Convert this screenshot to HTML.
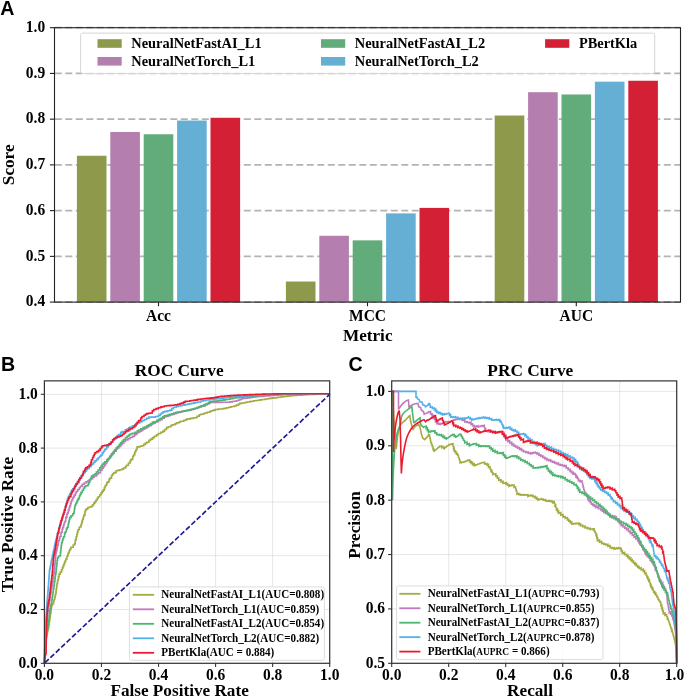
<!DOCTYPE html>
<html><head><meta charset="utf-8"><style>
html,body{margin:0;padding:0;background:#fff;}
svg{display:block;filter:blur(0.3px);}
text{font-family:"Liberation Serif", serif;font-weight:bold;fill:#000;}
</style></head><body>
<svg width="685" height="697" viewBox="0 0 685 697">
<line x1="54.8" y1="302.10" x2="680.5" y2="302.10" stroke="#b3b3b3" stroke-width="1.8" stroke-dasharray="7 3.5"/>
<line x1="54.8" y1="256.37" x2="680.5" y2="256.37" stroke="#b3b3b3" stroke-width="1.8" stroke-dasharray="7 3.5"/>
<line x1="54.8" y1="210.63" x2="680.5" y2="210.63" stroke="#b3b3b3" stroke-width="1.8" stroke-dasharray="7 3.5"/>
<line x1="54.8" y1="164.90" x2="680.5" y2="164.90" stroke="#b3b3b3" stroke-width="1.8" stroke-dasharray="7 3.5"/>
<line x1="54.8" y1="119.17" x2="680.5" y2="119.17" stroke="#b3b3b3" stroke-width="1.8" stroke-dasharray="7 3.5"/>
<line x1="54.8" y1="73.43" x2="680.5" y2="73.43" stroke="#b3b3b3" stroke-width="1.8" stroke-dasharray="7 3.5"/>
<line x1="54.8" y1="27.70" x2="680.5" y2="27.70" stroke="#b3b3b3" stroke-width="1.8" stroke-dasharray="7 3.5"/>
<rect x="76.90" y="155.75" width="29.60" height="146.35" fill="#8f994b"/>
<rect x="110.30" y="131.97" width="29.60" height="170.13" fill="#b47fae"/>
<rect x="143.70" y="134.26" width="29.60" height="167.84" fill="#62ac7b"/>
<rect x="177.10" y="120.54" width="29.60" height="181.56" fill="#66afd4"/>
<rect x="210.50" y="117.79" width="29.60" height="184.31" fill="#d42034"/>
<rect x="285.90" y="281.52" width="29.60" height="20.58" fill="#8f994b"/>
<rect x="319.30" y="235.79" width="29.60" height="66.31" fill="#b47fae"/>
<rect x="352.70" y="240.36" width="29.60" height="61.74" fill="#62ac7b"/>
<rect x="386.10" y="213.38" width="29.60" height="88.72" fill="#66afd4"/>
<rect x="419.50" y="207.89" width="29.60" height="94.21" fill="#d42034"/>
<rect x="494.70" y="115.51" width="29.60" height="186.59" fill="#8f994b"/>
<rect x="528.10" y="92.18" width="29.60" height="209.92" fill="#b47fae"/>
<rect x="561.50" y="94.47" width="29.60" height="207.63" fill="#62ac7b"/>
<rect x="594.90" y="81.67" width="29.60" height="220.43" fill="#66afd4"/>
<rect x="628.30" y="80.75" width="29.60" height="221.35" fill="#d42034"/>
<rect x="80.6" y="33.1" width="574.1" height="40.4" rx="2" fill="#ffffff" fill-opacity="0.8" stroke="#d6d6d6" stroke-width="1"/>
<rect x="97.5" y="39.2" width="24.2" height="8.6" fill="#8f994b"/>
<text transform="translate(131.30,47.90) scale(1,1.06)" font-size="14.4">NeuralNetFastAI_L1</text>
<rect x="97.5" y="57.0" width="24.2" height="8.6" fill="#b47fae"/>
<text transform="translate(131.30,65.70) scale(1,1.06)" font-size="14.4">NeuralNetTorch_L1</text>
<rect x="321.0" y="39.2" width="24.2" height="8.6" fill="#62ac7b"/>
<text transform="translate(354.80,47.90) scale(1,1.06)" font-size="14.4">NeuralNetFastAI_L2</text>
<rect x="321.0" y="57.0" width="24.2" height="8.6" fill="#66afd4"/>
<text transform="translate(354.80,65.70) scale(1,1.06)" font-size="14.4">NeuralNetTorch_L2</text>
<rect x="545.1" y="39.2" width="24.2" height="8.6" fill="#d42034"/>
<text transform="translate(578.90,47.90) scale(1,1.06)" font-size="14.4">PBertKla</text>
<rect x="54.5" y="27.7" width="626.0" height="274.40000000000003" fill="none" stroke="#222" stroke-width="1.1"/>
<line x1="49.9" y1="302.10" x2="54.5" y2="302.10" stroke="#222" stroke-width="1.1"/>
<text transform="translate(45.20,306.40) scale(1,1.06)" font-size="15.5" text-anchor="end">0.4</text>
<line x1="49.9" y1="256.37" x2="54.5" y2="256.37" stroke="#222" stroke-width="1.1"/>
<text transform="translate(45.20,260.67) scale(1,1.06)" font-size="15.5" text-anchor="end">0.5</text>
<line x1="49.9" y1="210.63" x2="54.5" y2="210.63" stroke="#222" stroke-width="1.1"/>
<text transform="translate(45.20,214.93) scale(1,1.06)" font-size="15.5" text-anchor="end">0.6</text>
<line x1="49.9" y1="164.90" x2="54.5" y2="164.90" stroke="#222" stroke-width="1.1"/>
<text transform="translate(45.20,169.20) scale(1,1.06)" font-size="15.5" text-anchor="end">0.7</text>
<line x1="49.9" y1="119.17" x2="54.5" y2="119.17" stroke="#222" stroke-width="1.1"/>
<text transform="translate(45.20,123.47) scale(1,1.06)" font-size="15.5" text-anchor="end">0.8</text>
<line x1="49.9" y1="73.43" x2="54.5" y2="73.43" stroke="#222" stroke-width="1.1"/>
<text transform="translate(45.20,77.73) scale(1,1.06)" font-size="15.5" text-anchor="end">0.9</text>
<line x1="49.9" y1="27.70" x2="54.5" y2="27.70" stroke="#222" stroke-width="1.1"/>
<text transform="translate(45.20,32.00) scale(1,1.06)" font-size="15.5" text-anchor="end">1.0</text>
<line x1="158.5" y1="302.1" x2="158.5" y2="306.3" stroke="#222" stroke-width="1.1"/>
<text transform="translate(158.50,320.70) scale(1,1.06)" font-size="15.5" text-anchor="middle">Acc</text>
<line x1="367.5" y1="302.1" x2="367.5" y2="306.3" stroke="#222" stroke-width="1.1"/>
<text transform="translate(367.50,320.70) scale(1,1.06)" font-size="15.5" text-anchor="middle">MCC</text>
<line x1="576.3" y1="302.1" x2="576.3" y2="306.3" stroke="#222" stroke-width="1.1"/>
<text transform="translate(576.30,320.70) scale(1,1.06)" font-size="15.5" text-anchor="middle">AUC</text>
<text transform="translate(367.70,341.10) scale(1,0.95)" font-size="17.2" text-anchor="middle">Metric</text>
<text transform="translate(13.7,164.8) rotate(-90) scale(1,1.02)" font-size="17.2" text-anchor="middle">Score</text>
<text transform="translate(0.30,14.70) scale(1,1.0)" font-size="19.6" style='font-family:"Liberation Sans", sans-serif'>A</text>
<line x1="44.40" y1="380.84999999999997" x2="44.40" y2="663.3" stroke="#8c8c8c" stroke-opacity="0.21" stroke-width="1"/>
<line x1="101.46" y1="380.84999999999997" x2="101.46" y2="663.3" stroke="#8c8c8c" stroke-opacity="0.21" stroke-width="1"/>
<line x1="158.52" y1="380.84999999999997" x2="158.52" y2="663.3" stroke="#8c8c8c" stroke-opacity="0.21" stroke-width="1"/>
<line x1="215.58" y1="380.84999999999997" x2="215.58" y2="663.3" stroke="#8c8c8c" stroke-opacity="0.21" stroke-width="1"/>
<line x1="272.64" y1="380.84999999999997" x2="272.64" y2="663.3" stroke="#8c8c8c" stroke-opacity="0.21" stroke-width="1"/>
<line x1="329.70" y1="380.84999999999997" x2="329.70" y2="663.3" stroke="#8c8c8c" stroke-opacity="0.21" stroke-width="1"/>
<line x1="44.4" y1="663.30" x2="329.7" y2="663.30" stroke="#8c8c8c" stroke-opacity="0.21" stroke-width="1"/>
<line x1="44.4" y1="609.50" x2="329.7" y2="609.50" stroke="#8c8c8c" stroke-opacity="0.21" stroke-width="1"/>
<line x1="44.4" y1="555.70" x2="329.7" y2="555.70" stroke="#8c8c8c" stroke-opacity="0.21" stroke-width="1"/>
<line x1="44.4" y1="501.90" x2="329.7" y2="501.90" stroke="#8c8c8c" stroke-opacity="0.21" stroke-width="1"/>
<line x1="44.4" y1="448.10" x2="329.7" y2="448.10" stroke="#8c8c8c" stroke-opacity="0.21" stroke-width="1"/>
<line x1="44.4" y1="394.30" x2="329.7" y2="394.30" stroke="#8c8c8c" stroke-opacity="0.21" stroke-width="1"/>
<polyline points="44.40,663.30 44.50,663.30 44.50,661.15 44.61,661.15 44.61,658.67 44.72,658.67 44.72,656.27 44.78,656.27 44.78,654.97 44.87,654.97 44.87,652.84 45.00,652.84 45.00,650.00 45.19,650.00 45.19,648.07 45.43,648.07 45.43,645.73 45.57,645.73 45.57,644.33 45.85,644.33 45.85,641.47 46.00,641.47 46.00,640.00 46.18,640.00 46.18,638.35 46.50,638.35 46.50,635.40 47.01,635.40 47.01,633.30 47.50,633.30 47.50,631.30 47.89,631.30 47.89,629.42 48.41,629.42 48.41,626.87 48.90,626.87 48.90,624.50 49.22,624.50 49.22,622.13 49.50,622.13 49.50,620.13 49.82,620.13 49.82,617.76 50.20,617.76 50.20,615.00 50.45,615.00 50.45,613.29 50.97,613.29 50.97,609.71 51.26,609.71 51.26,607.72 51.60,607.72 51.60,605.40 52.41,605.40 52.41,603.74 53.60,603.74 53.60,601.30 54.07,601.30 54.07,599.48 54.72,599.48 54.72,596.98 55.24,596.98 55.24,594.97 55.70,594.97 55.70,593.20 56.06,593.20 56.06,590.55 56.31,590.55 56.31,588.68 56.69,588.68 56.69,585.87 57.00,585.87 57.00,583.60 57.55,583.60 57.55,581.10 57.90,581.10 57.90,579.51 58.49,579.51 58.49,576.84 59.10,576.84 59.10,574.10 60.24,574.10 60.24,572.16 61.50,572.16 61.50,570.00 62.33,570.00 62.33,567.90 62.94,567.90 62.94,566.34 63.72,566.34 63.72,564.37 64.50,564.37 64.50,562.40 65.06,562.40 65.06,561.00 65.85,561.00 65.85,559.03 66.95,559.03 66.95,556.31 67.86,556.31 67.86,554.03 68.46,554.03 68.46,552.54 69.20,552.54 69.20,550.70 69.88,550.70 69.88,549.30 70.90,549.30 70.90,547.20 73.22,547.20 73.22,544.94 74.50,544.94 74.50,543.70 75.19,543.70 75.19,540.86 75.54,540.86 75.54,539.41 76.20,539.41 76.20,536.70 76.83,536.70 76.83,534.26 77.39,534.26 77.39,532.09 78.00,532.09 78.00,529.70 79.23,529.70 79.23,527.70 79.65,527.70 79.65,527.03 80.90,527.03 80.90,525.00 81.60,525.00 81.60,522.62 82.12,522.62 82.12,520.85 82.60,520.85 82.60,519.20 83.29,519.20 83.29,516.98 83.86,516.98 83.86,515.17 84.94,515.17 84.94,511.71 85.50,511.71 85.50,509.90 86.48,509.90 86.48,508.92 87.90,508.92 87.90,507.50 89.63,507.50 89.63,506.95 91.40,506.95 91.40,506.40 92.59,506.40 92.59,504.80 93.82,504.80 93.82,503.15 94.90,503.15 94.90,501.70 96.02,501.70 96.02,499.99 97.20,499.99 97.20,498.20 98.25,498.20 98.25,496.73 99.70,496.73 99.70,494.70 101.12,494.70 101.12,492.83 102.24,492.83 102.24,491.36 103.20,491.36 103.20,490.10 104.25,490.10 104.25,487.99 105.04,487.99 105.04,486.42 105.61,486.42 105.61,485.29 106.70,485.29 106.70,483.10 107.52,483.10 107.52,481.86 109.00,481.86 109.00,479.60 109.92,479.60 109.92,478.09 111.49,478.09 111.49,475.52 112.60,475.52 112.60,473.70 113.90,473.70 113.90,472.62 116.10,472.62 116.10,470.80 117.65,470.80 117.65,470.35 119.70,470.35 119.70,469.74 121.90,469.74 121.90,469.10 123.60,469.10 123.60,467.93 125.40,467.93 125.40,466.70 126.52,466.70 126.52,465.32 128.43,465.32 128.43,462.96 130.10,462.96 130.10,460.90 130.99,460.90 130.99,459.39 132.71,459.39 132.71,456.49 133.60,456.49 133.60,455.00 134.64,455.00 134.64,452.59 135.10,452.59 135.10,451.53 135.97,451.53 135.97,449.51 137.10,449.51 137.10,446.90 139.87,446.90 139.87,446.22 142.00,446.22 142.00,445.70 143.73,445.70 143.73,444.41 145.18,444.41 145.18,443.34 146.70,443.34 146.70,442.20 148.98,442.20 148.98,440.39 150.59,440.39 150.59,439.12 152.50,439.12 152.50,437.60 154.34,437.60 154.34,436.32 156.52,436.32 156.52,434.80 158.40,434.80 158.40,433.50 160.88,433.50 160.88,432.21 163.00,432.21 163.00,431.10 164.54,431.10 164.54,429.56 166.50,429.56 166.50,427.60 168.24,427.60 168.24,426.75 170.86,426.75 170.86,425.46 172.40,425.46 172.40,424.70 175.07,424.70 175.07,423.59 176.95,423.59 176.95,422.82 179.40,422.82 179.40,421.80 180.88,421.80 180.88,421.28 183.89,421.28 183.89,420.21 186.12,420.21 186.12,419.42 187.60,419.42 187.60,418.90 190.45,418.90 190.45,418.41 192.93,418.41 192.93,417.99 194.60,417.99 194.60,417.70 196.91,417.70 196.91,416.24 199.20,416.24 199.20,414.80 200.82,414.80 200.82,414.31 203.34,414.31 203.34,413.54 205.10,413.54 205.10,413.00 207.10,413.00 207.10,412.31 210.00,412.31 210.00,411.30 211.55,411.30 211.55,410.77 213.53,410.77 213.53,410.10 215.30,410.10 215.30,409.50 218.19,409.50 218.19,409.17 219.29,409.17 219.29,409.04 222.30,409.04 222.30,408.70 223.98,408.70 223.98,408.33 226.58,408.33 226.58,407.75 228.81,407.75 228.81,407.26 230.96,407.26 230.96,406.78 232.28,406.78 232.28,406.49 234.50,406.49 234.50,406.00 236.25,406.00 236.25,405.14 238.55,405.14 238.55,404.01 239.80,404.01 239.80,403.40 241.73,403.40 241.73,403.04 244.83,403.04 244.83,402.47 246.94,402.47 246.94,402.07 249.61,402.07 249.61,401.58 251.28,401.58 251.28,401.27 253.80,401.27 253.80,400.80 256.05,400.80 256.05,400.45 257.66,400.45 257.66,400.21 259.76,400.21 259.76,399.88 261.99,399.88 261.99,399.54 265.22,399.54 265.22,399.04 267.30,399.04 267.30,398.72 269.54,398.72 269.54,398.37 271.30,398.37 271.30,398.10 273.18,398.10 273.18,397.86 276.19,397.86 276.19,397.49 277.95,397.49 277.95,397.26 280.61,397.26 280.61,396.93 282.18,396.93 282.18,396.73 284.13,396.73 284.13,396.49 286.99,396.49 286.99,396.13 288.80,396.13 288.80,395.90 290.66,395.90 290.66,395.76 293.84,395.76 293.84,395.53 295.30,395.53 295.30,395.42 297.09,395.42 297.09,395.29 299.36,395.29 299.36,395.12 301.66,395.12 301.66,394.95 304.52,394.95 304.52,394.74 306.40,394.74 306.40,394.60 308.31,394.60 308.31,394.54 310.85,394.54 310.85,394.46 312.59,394.46 312.59,394.40 315.58,394.40 315.58,394.31 316.99,394.31 316.99,394.26 319.20,394.26 319.20,394.19 322.10,394.19 322.10,394.10 324.78,394.10 324.78,393.99 327.09,393.99 327.09,393.90 329.70,393.90 329.70,393.80" fill="none" stroke="#a3ab41" stroke-width="1.6" stroke-linejoin="miter" stroke-miterlimit="2"/>
<polyline points="44.40,663.30 44.47,663.30 44.47,661.28 44.55,661.28 44.55,658.58 44.63,658.58 44.63,656.29 44.70,656.29 44.70,654.04 44.76,654.04 44.76,652.33 44.85,652.33 44.85,649.67 44.92,649.67 44.92,647.43 45.00,647.43 45.00,645.00 45.10,645.00 45.10,643.45 45.25,643.45 45.25,641.32 45.43,641.32 45.43,638.62 45.56,638.62 45.56,636.66 45.70,636.66 45.70,634.44 45.89,634.44 45.89,631.64 46.00,631.64 46.00,630.00 46.22,630.00 46.22,627.84 46.49,627.84 46.49,625.07 46.67,625.07 46.67,623.35 46.82,623.35 46.82,621.84 47.12,621.84 47.12,618.78 47.32,618.78 47.32,616.76 47.50,616.76 47.50,615.00 47.86,615.00 47.86,612.26 48.01,612.26 48.01,611.15 48.40,611.15 48.40,608.24 48.68,608.24 48.68,606.15 48.92,606.15 48.92,604.34 49.22,604.34 49.22,602.10 49.50,602.10 49.50,600.00 49.91,600.00 49.91,597.54 50.25,597.54 50.25,595.52 50.49,595.52 50.49,594.05 50.85,594.05 50.85,591.92 51.25,591.92 51.25,589.50 51.50,589.50 51.50,588.00 51.80,588.00 51.80,586.06 52.29,586.06 52.29,582.94 52.51,582.94 52.51,581.51 53.00,581.51 53.00,578.38 53.29,578.38 53.29,576.47 53.60,576.47 53.60,574.49 53.95,574.49 53.95,572.23 54.30,572.23 54.30,570.00 54.44,570.00 54.44,568.43 54.71,568.43 54.71,565.37 54.89,565.37 54.89,563.38 55.10,563.38 55.10,561.03 55.20,561.03 55.20,559.83 55.45,559.83 55.45,557.01 55.56,557.01 55.56,555.77 55.80,555.77 55.80,553.10 56.29,553.10 56.29,550.92 56.87,550.92 56.87,548.34 57.18,548.34 57.18,546.98 57.65,546.98 57.65,544.87 58.33,544.87 58.33,541.86 58.70,541.86 58.70,540.20 59.45,540.20 59.45,537.85 59.90,537.85 59.90,536.47 60.94,536.47 60.94,533.22 61.24,533.22 61.24,532.27 62.21,532.27 62.21,529.24 62.80,529.24 62.80,527.40 63.56,527.40 63.56,525.00 64.12,525.00 64.12,523.25 64.66,523.25 64.66,521.54 65.73,521.54 65.73,518.17 66.07,518.17 66.07,517.10 66.90,517.10 66.90,514.50 67.39,514.50 67.39,513.01 68.25,513.01 68.25,510.42 69.07,510.42 69.07,507.96 69.74,507.96 69.74,505.92 70.49,505.92 70.49,503.64 71.12,503.64 71.12,501.75 71.70,501.75 71.70,500.00 72.73,500.00 72.73,498.07 73.48,498.07 73.48,496.67 74.30,496.67 74.30,495.14 75.43,495.14 75.43,493.02 76.40,493.02 76.40,491.20 77.76,491.20 77.76,489.56 79.31,489.56 79.31,487.68 80.44,487.68 80.44,486.32 82.20,486.32 82.20,484.20 84.26,484.20 84.26,482.96 85.97,482.96 85.97,481.92 88.00,481.92 88.00,480.70 89.23,480.70 89.23,479.78 90.72,479.78 90.72,478.68 92.70,478.68 92.70,477.20 94.16,477.20 94.16,476.04 96.72,476.04 96.72,474.01 98.50,474.01 98.50,472.60 100.47,472.60 100.47,470.12 102.10,470.12 102.10,468.08 103.20,468.08 103.20,466.70 104.44,466.70 104.44,464.85 105.64,464.85 105.64,463.07 106.94,463.07 106.94,461.13 107.90,461.13 107.90,459.70 109.01,459.70 109.01,457.86 110.25,457.86 110.25,455.80 111.40,455.80 111.40,453.90 112.88,453.90 112.88,452.42 114.17,452.42 114.17,451.13 116.10,451.13 116.10,449.20 117.27,449.20 117.27,448.01 118.87,448.01 118.87,446.37 120.70,446.37 120.70,444.50 122.29,444.50 122.29,442.95 123.80,442.95 123.80,441.47 125.40,441.47 125.40,439.90 127.95,439.90 127.95,438.60 130.10,438.60 130.10,437.50 132.40,437.50 132.40,436.40 134.40,436.40 134.40,434.87 135.75,434.87 135.75,433.84 137.10,433.84 137.10,432.80 138.56,432.80 138.56,431.94 140.00,431.94 140.00,431.10 141.70,431.10 141.70,430.06 143.03,430.06 143.03,429.25 144.62,429.25 144.62,428.27 146.70,428.27 146.70,427.00 148.66,427.00 148.66,425.82 151.06,425.82 151.06,424.37 152.50,424.37 152.50,423.50 155.04,423.50 155.04,422.21 156.28,422.21 156.28,421.58 158.40,421.58 158.40,420.50 159.87,420.50 159.87,419.61 162.04,419.61 162.04,418.30 164.20,418.30 164.20,417.00 165.57,417.00 165.57,416.53 168.01,416.53 168.01,415.69 170.00,415.69 170.00,415.00 171.62,415.00 171.62,414.45 174.04,414.45 174.04,413.63 175.90,413.63 175.90,413.00 177.69,413.00 177.69,412.54 180.27,412.54 180.27,411.87 181.70,411.87 181.70,411.50 183.30,411.50 183.30,411.23 185.72,411.23 185.72,410.82 187.60,410.82 187.60,410.50 189.83,410.50 189.83,409.92 191.34,409.92 191.34,409.53 193.40,409.53 193.40,409.00 194.85,409.00 194.85,408.50 197.67,408.50 197.67,407.53 199.20,407.53 199.20,407.00 201.39,407.00 201.39,406.26 202.57,406.26 202.57,405.86 205.10,405.86 205.10,405.00 206.95,405.00 206.95,404.05 208.36,404.05 208.36,403.33 210.00,403.33 210.00,402.50 212.59,402.50 212.59,402.46 214.94,402.46 214.94,402.42 217.00,402.42 217.00,402.38 218.48,402.38 218.48,402.35 220.59,402.35 220.59,402.32 223.11,402.32 223.11,402.28 225.00,402.28 225.00,402.24 227.50,402.24 227.50,402.20 229.81,402.20 229.81,401.83 232.32,401.83 232.32,401.43 233.57,401.43 233.57,401.23 236.30,401.23 236.30,400.80 237.67,400.80 237.67,400.25 239.68,400.25 239.68,399.43 241.50,399.43 241.50,398.70 243.09,398.70 243.09,398.47 245.35,398.47 245.35,398.14 247.32,398.14 247.32,397.85 249.91,397.85 249.91,397.47 251.97,397.47 251.97,397.17 253.80,397.17 253.80,396.90 256.01,396.90 256.01,396.72 258.46,396.72 258.46,396.53 260.04,396.53 260.04,396.40 263.07,396.40 263.07,396.16 264.69,396.16 264.69,396.03 267.19,396.03 267.19,395.83 268.99,395.83 268.99,395.69 271.30,395.69 271.30,395.50 273.99,395.50 273.99,395.32 275.26,395.32 275.26,395.23 277.88,395.23 277.88,395.05 280.03,395.05 280.03,394.90 282.11,394.90 282.11,394.76 284.70,394.76 284.70,394.58 287.19,394.58 287.19,394.41 288.80,394.41 288.80,394.30 291.37,394.30 291.37,394.21 293.87,394.21 293.87,394.12 296.35,394.12 296.35,394.03 297.81,394.03 297.81,393.98 300.72,393.98 300.72,393.88 302.90,393.88 302.90,393.80 329.70,393.80" fill="none" stroke="#c17bbd" stroke-width="1.6" stroke-linejoin="miter" stroke-miterlimit="2"/>
<polyline points="44.40,663.30 44.50,663.30 44.50,661.66 44.63,661.66 44.63,659.51 44.83,659.51 44.83,656.20 44.91,656.20 44.91,654.75 45.05,654.75 45.05,652.57 45.20,652.57 45.20,650.00 45.40,650.00 45.40,647.54 45.61,647.54 45.61,644.96 45.76,644.96 45.76,643.15 45.97,643.15 45.97,640.59 46.15,640.59 46.15,638.41 46.27,638.41 46.27,636.97 46.50,636.97 46.50,634.10 46.79,634.10 46.79,632.07 47.07,632.07 47.07,630.15 47.50,630.15 47.50,627.20 47.99,627.20 47.99,624.54 48.50,624.54 48.50,621.80 48.74,621.80 48.74,619.76 49.07,619.76 49.07,617.05 49.27,617.05 49.27,615.33 49.61,615.33 49.61,612.51 49.80,612.51 49.80,610.90 50.17,610.90 50.17,608.91 50.83,608.91 50.83,605.43 51.13,605.43 51.13,603.79 51.60,603.79 51.60,601.30 51.95,601.30 51.95,598.92 52.28,598.92 52.28,596.65 52.68,596.65 52.68,593.95 52.97,593.95 52.97,591.99 53.35,591.99 53.35,589.38 53.60,589.38 53.60,587.70 53.93,587.70 53.93,585.40 54.27,585.40 54.27,582.99 54.48,582.99 54.48,581.45 54.91,581.45 54.91,578.41 55.18,578.41 55.18,576.54 55.43,576.54 55.43,574.71 55.71,574.71 55.71,572.79 56.10,572.79 56.10,570.00 56.28,570.00 56.28,568.38 56.54,568.38 56.54,566.15 56.84,566.15 56.84,563.52 57.09,563.52 57.09,561.34 57.20,561.34 57.20,560.31 57.50,560.31 57.50,557.70 58.55,557.70 58.55,556.03 60.40,556.03 60.40,553.10 60.64,553.10 60.64,550.99 60.95,550.99 60.95,548.27 61.09,548.27 61.09,547.04 61.30,547.04 61.30,545.23 61.60,545.23 61.60,542.60 62.35,542.60 62.35,540.34 62.86,540.34 62.86,538.80 63.51,538.80 63.51,536.82 64.55,536.82 64.55,533.65 65.10,533.65 65.10,532.00 66.30,532.00 66.30,529.11 66.96,529.11 66.96,527.50 68.00,527.50 68.00,525.00 68.48,525.00 68.48,522.99 68.92,522.99 68.92,521.13 69.38,521.13 69.38,519.16 69.80,519.16 69.80,517.40 71.11,517.40 71.11,515.74 72.71,515.74 72.71,513.70 73.90,513.70 73.90,512.20 74.37,512.20 74.37,509.20 74.64,509.20 74.64,507.50 75.00,507.50 75.00,505.20 75.79,505.20 75.79,503.55 76.71,503.55 76.71,501.65 77.50,501.65 77.50,500.00 78.14,500.00 78.14,498.60 79.32,498.60 79.32,496.05 80.11,496.05 80.11,494.34 81.00,494.34 81.00,492.40 82.31,492.40 82.31,490.23 83.50,490.23 83.50,488.26 84.50,488.26 84.50,486.60 85.79,486.60 85.79,485.72 88.00,485.72 88.00,484.20 88.85,484.20 88.85,482.23 89.80,482.23 89.80,480.04 90.53,480.04 90.53,478.34 91.50,478.34 91.50,476.10 93.05,476.10 93.05,475.03 95.00,475.03 95.00,473.70 96.38,473.70 96.38,472.00 98.02,472.00 98.02,469.98 99.70,469.98 99.70,467.90 100.92,467.90 100.92,466.27 102.20,466.27 102.20,464.55 103.20,464.55 103.20,463.20 104.66,463.20 104.66,461.74 106.70,461.74 106.70,459.70 107.97,459.70 107.97,458.43 109.77,458.43 109.77,456.63 111.40,456.63 111.40,455.00 112.46,455.00 112.46,453.42 113.99,453.42 113.99,451.15 114.88,451.15 114.88,449.81 116.10,449.81 116.10,448.00 117.48,448.00 117.48,446.44 119.30,446.44 119.30,444.38 120.70,444.38 120.70,442.80 122.01,442.80 122.01,441.32 123.48,441.32 123.48,439.67 125.40,439.67 125.40,437.50 127.26,437.50 127.26,436.12 128.85,436.12 128.85,434.93 130.10,434.93 130.10,434.00 132.22,434.00 132.22,433.26 135.00,433.26 135.00,432.30 137.29,432.30 137.29,430.92 138.69,430.92 138.69,430.07 140.80,430.07 140.80,428.80 143.11,428.80 143.11,427.66 144.46,427.66 144.46,427.00 146.70,427.00 146.70,425.90 148.54,425.90 148.54,424.79 150.46,424.79 150.46,423.63 152.50,423.63 152.50,422.40 153.88,422.40 153.88,421.72 156.96,421.72 156.96,420.21 158.40,420.21 158.40,419.50 160.26,419.50 160.26,418.35 162.79,418.35 162.79,416.78 164.20,416.78 164.20,415.90 166.42,415.90 166.42,415.25 168.46,415.25 168.46,414.65 170.00,414.65 170.00,414.20 171.72,414.20 171.72,413.68 173.75,413.68 173.75,413.06 175.90,413.06 175.90,412.40 177.94,412.40 177.94,412.01 179.52,412.01 179.52,411.71 181.70,411.71 181.70,411.30 184.14,411.30 184.14,410.80 185.86,410.80 185.86,410.45 187.60,410.45 187.60,410.10 190.00,410.10 190.00,409.60 191.56,409.60 191.56,409.28 193.40,409.28 193.40,408.90 194.95,408.90 194.95,408.28 197.03,408.28 197.03,407.46 199.20,407.46 199.20,406.60 201.06,406.60 201.06,405.87 203.65,405.87 203.65,404.86 205.10,404.86 205.10,404.30 206.49,404.30 206.49,403.53 208.72,403.53 208.72,402.30 210.00,402.30 210.00,401.60 212.78,401.60 212.78,401.26 214.21,401.26 214.21,401.09 217.41,401.09 217.41,400.70 219.92,400.70 219.92,400.39 222.10,400.39 222.10,400.13 224.00,400.13 224.00,399.90 225.77,399.90 225.77,399.57 227.82,399.57 227.82,399.19 230.18,399.19 230.18,398.74 232.11,398.74 232.11,398.38 234.22,398.38 234.22,397.99 236.30,397.99 236.30,397.60 238.95,397.60 238.95,397.34 240.13,397.34 240.13,397.23 242.87,397.23 242.87,396.96 244.81,396.96 244.81,396.77 246.99,396.77 246.99,396.56 249.23,396.56 249.23,396.34 251.81,396.34 251.81,396.09 253.80,396.09 253.80,395.90 255.83,395.90 255.83,395.75 257.62,395.75 257.62,395.62 259.94,395.62 259.94,395.44 262.38,395.44 262.38,395.26 264.87,395.26 264.87,395.08 267.30,395.08 267.30,394.90 268.96,394.90 268.96,394.77 271.30,394.77 271.30,394.60 273.74,394.60 273.74,394.53 275.62,394.53 275.62,394.48 277.53,394.48 277.53,394.42 280.10,394.42 280.10,394.35 282.49,394.35 282.49,394.28 283.86,394.28 283.86,394.24 286.51,394.24 286.51,394.17 288.80,394.17 288.80,394.10 291.21,394.10 291.21,394.04 292.61,394.04 292.61,394.01 294.91,394.01 294.91,393.95 296.54,393.95 296.54,393.91 299.44,393.91 299.44,393.84 301.10,393.84 301.10,393.80 329.70,393.80" fill="none" stroke="#4fb472" stroke-width="1.6" stroke-linejoin="miter" stroke-miterlimit="2"/>
<polyline points="44.40,663.30 44.60,650.00 44.66,650.00 44.66,648.22 44.76,648.22 44.76,645.34 44.86,645.34 44.86,642.20 44.93,642.20 44.93,639.97 45.00,639.97 45.00,638.00 45.06,638.00 45.06,636.28 45.15,636.28 45.15,633.89 45.27,633.89 45.27,630.67 45.35,630.67 45.35,628.56 45.43,628.56 45.43,626.34 45.50,626.34 45.50,624.50 45.65,624.50 45.65,622.24 45.80,622.24 45.80,620.04 45.93,620.04 45.93,618.13 46.05,618.13 46.05,616.42 46.22,616.42 46.22,613.92 46.33,613.92 46.33,612.29 46.55,612.29 46.55,609.09 46.69,609.09 46.69,607.06 46.80,607.06 46.80,605.40 46.97,605.40 46.97,603.30 47.16,603.30 47.16,600.84 47.32,600.84 47.32,598.85 47.46,598.85 47.46,597.00 47.65,597.00 47.65,594.60 47.88,594.60 47.88,591.71 47.98,591.71 47.98,590.52 48.20,590.52 48.20,587.70 48.33,587.70 48.33,585.89 48.52,585.89 48.52,583.39 48.66,583.39 48.66,581.46 48.86,581.46 48.86,578.67 48.99,578.67 48.99,576.93 49.16,576.93 49.16,574.62 49.36,574.62 49.36,571.88 49.50,571.88 49.50,570.00 49.82,570.00 49.82,568.36 50.31,568.36 50.31,565.92 50.89,565.92 50.89,562.99 51.29,562.99 51.29,560.97 51.70,560.97 51.70,558.90 52.26,558.90 52.26,556.31 52.64,556.31 52.64,554.54 53.13,554.54 53.13,552.23 53.32,552.23 53.32,551.34 53.83,551.34 53.83,548.97 54.45,548.97 54.45,546.11 54.83,546.11 54.83,544.30 55.20,544.30 55.20,542.60 55.68,542.60 55.68,540.65 56.09,540.65 56.09,539.01 56.66,539.01 56.66,536.70 57.34,536.70 57.34,533.98 57.65,533.98 57.65,532.73 58.05,532.73 58.05,531.11 58.70,531.11 58.70,528.50 59.31,528.50 59.31,526.66 59.93,526.66 59.93,524.81 61.00,524.81 61.00,521.59 61.47,521.59 61.47,520.20 62.20,520.20 62.20,518.00 62.66,518.00 62.66,516.32 63.21,516.32 63.21,514.32 63.95,514.32 63.95,511.61 64.45,511.61 64.45,509.79 65.29,509.79 65.29,506.70 65.70,506.70 65.70,505.20 66.29,505.20 66.29,503.29 67.13,503.29 67.13,500.56 67.57,500.56 67.57,499.15 68.20,499.15 68.20,497.10 69.03,497.10 69.03,495.43 69.82,495.43 69.82,493.86 71.03,493.86 71.03,491.44 71.70,491.44 71.70,490.10 72.83,490.10 72.83,488.69 74.60,488.69 74.60,486.46 76.40,486.46 76.40,484.20 77.25,484.20 77.25,482.79 79.03,482.79 79.03,479.84 79.95,479.84 79.95,478.32 81.41,478.32 81.41,475.90 82.17,475.90 82.17,474.65 83.40,474.65 83.40,472.60 85.06,472.60 85.06,470.91 86.30,470.91 86.30,469.66 87.40,469.66 87.40,468.54 89.20,468.54 89.20,466.70 91.02,466.70 91.02,464.88 91.96,464.88 91.96,463.94 93.69,463.94 93.69,462.21 95.00,462.21 95.00,460.90 96.50,460.90 96.50,459.40 98.09,459.40 98.09,457.81 99.59,457.81 99.59,456.31 100.90,456.31 100.90,455.00 102.39,455.00 102.39,452.92 103.54,452.92 103.54,451.31 104.50,451.31 104.50,449.98 105.22,449.98 105.22,448.96 106.70,448.96 106.70,446.90 108.32,446.90 108.32,444.97 109.26,444.97 109.26,443.86 110.83,443.86 110.83,442.00 112.60,442.00 112.60,439.90 114.36,439.90 114.36,438.33 116.06,438.33 116.06,436.82 117.20,436.82 117.20,435.80 118.43,435.80 118.43,434.57 120.70,434.57 120.70,432.30 122.36,432.30 122.36,431.45 125.40,431.45 125.40,429.90 127.26,429.90 127.26,428.75 128.80,428.75 128.80,427.80 130.10,427.80 130.10,427.00 132.47,427.00 132.47,425.82 134.70,425.82 134.70,424.70 136.54,424.70 136.54,423.63 137.86,423.63 137.86,422.86 139.70,422.86 139.70,421.80 142.38,421.80 142.38,420.46 144.30,420.46 144.30,419.50 146.69,419.50 146.69,418.28 149.00,418.28 149.00,417.10 153.70,417.10 155.39,417.10 155.39,416.49 158.40,416.49 158.40,415.40 160.27,415.40 160.27,413.98 161.57,413.98 161.57,412.99 163.00,412.99 163.00,411.90 165.16,411.90 165.16,411.35 167.70,411.35 167.70,410.70 170.00,410.70 170.00,410.10 171.77,410.10 171.77,408.63 173.50,408.63 173.50,407.20 176.33,407.20 176.33,406.48 178.20,406.48 178.20,406.00 180.22,406.00 180.22,405.62 181.99,405.62 181.99,405.29 184.10,405.29 184.10,404.90 185.72,404.90 185.72,404.56 187.95,404.56 187.95,404.10 189.90,404.10 189.90,403.70 191.39,403.70 191.39,403.39 193.91,403.39 193.91,402.87 195.70,402.87 195.70,402.50 197.94,402.50 197.94,401.96 200.87,401.96 200.87,401.24 202.70,401.24 202.70,400.80 205.12,400.80 205.12,400.31 206.27,400.31 206.27,400.07 208.60,400.07 208.60,399.60 210.63,399.60 210.63,399.41 213.25,399.41 213.25,399.16 215.00,399.16 215.00,399.00 216.88,399.00 216.88,398.74 219.22,398.74 219.22,398.43 221.76,398.43 221.76,398.08 223.60,398.08 223.60,397.83 224.80,397.83 224.80,397.67 227.50,397.67 227.50,397.30 230.14,397.30 230.14,397.09 231.69,397.09 231.69,396.97 234.41,396.97 234.41,396.75 236.89,396.75 236.89,396.55 238.60,396.55 238.60,396.41 240.86,396.41 240.86,396.23 242.96,396.23 242.96,396.06 245.00,396.06 245.00,395.90 247.35,395.90 247.35,395.73 249.32,395.73 249.32,395.58 251.13,395.58 251.13,395.45 254.16,395.45 254.16,395.22 255.82,395.22 255.82,395.10 258.41,395.10 258.41,394.91 259.92,394.91 259.92,394.80 262.60,394.80 262.60,394.60 264.58,394.60 264.58,394.54 267.11,394.54 267.11,394.47 268.59,394.47 268.59,394.43 271.17,394.43 271.17,394.35 274.04,394.35 274.04,394.27 275.23,394.27 275.23,394.24 278.03,394.24 278.03,394.16 280.00,394.16 280.00,394.10 282.61,394.10 282.61,394.06 285.00,394.06 285.00,394.01 286.15,394.01 286.15,394.00 288.91,394.00 288.91,393.95 290.99,393.95 290.99,393.91 293.30,393.91 293.30,393.87 295.98,393.87 295.98,393.83 297.60,393.83 297.60,393.80 329.70,393.80" fill="none" stroke="#52b1e8" stroke-width="1.6" stroke-linejoin="miter" stroke-miterlimit="2"/>
<polyline points="44.40,663.30 44.56,663.30 44.56,660.91 44.70,660.91 44.70,658.69 44.80,658.69 44.80,657.20 45.24,657.20 45.24,655.07 45.50,655.07 45.50,653.80 46.10,653.80 46.10,651.80 46.40,631.30 46.45,631.30 46.45,629.56 46.53,629.56 46.53,626.81 46.59,626.81 46.59,624.84 46.67,624.84 46.67,622.17 46.74,622.17 46.74,619.87 46.80,619.87 46.80,617.70 46.96,617.70 46.96,615.17 47.05,615.17 47.05,613.79 47.24,613.79 47.24,610.77 47.33,610.77 47.33,609.45 47.50,609.45 47.50,606.80 48.05,606.80 48.05,603.90 48.32,603.90 48.32,602.46 48.77,602.46 48.77,600.08 49.30,600.08 49.30,597.30 49.60,597.30 49.60,594.77 49.79,594.77 49.79,593.14 50.17,593.14 50.17,589.85 50.40,589.85 50.40,587.91 50.71,587.91 50.71,585.24 50.90,585.24 50.90,583.60 51.10,583.60 51.10,581.92 51.40,581.92 51.40,579.34 51.72,579.34 51.72,576.66 51.89,576.66 51.89,575.21 52.26,575.21 52.26,572.02 52.50,572.02 52.50,570.00 52.65,570.00 52.65,567.97 52.82,567.97 52.82,565.65 52.91,565.65 52.91,564.39 53.14,564.39 53.14,561.22 53.21,561.22 53.21,560.34 53.40,560.34 53.40,557.70 53.82,557.70 53.82,555.47 54.08,555.47 54.08,554.06 54.49,554.06 54.49,551.88 54.92,551.88 54.92,549.58 55.51,549.58 55.51,546.45 55.80,546.45 55.80,544.90 56.11,544.90 56.11,543.00 56.45,543.00 56.45,540.88 56.83,540.88 56.83,538.57 57.22,538.57 57.22,536.15 57.50,536.15 57.50,534.40 57.92,534.40 57.92,532.71 58.82,532.71 58.82,529.09 59.10,529.09 59.10,527.95 59.76,527.95 59.76,525.26 60.40,525.26 60.40,522.70 61.01,522.70 61.01,520.81 61.69,520.81 61.69,518.67 62.32,518.67 62.32,516.71 62.96,516.71 62.96,514.71 63.67,514.71 63.67,512.48 64.50,512.48 64.50,509.90 65.30,509.90 65.30,507.34 65.75,507.34 65.75,505.90 66.32,505.90 66.32,504.07 66.88,504.07 66.88,502.29 67.60,502.29 67.60,500.00 68.58,500.00 68.58,498.19 69.38,498.19 69.38,496.71 70.93,496.71 70.93,493.83 71.70,493.83 71.70,492.40 72.38,492.40 72.38,491.04 73.57,491.04 73.57,488.66 74.56,488.66 74.56,486.68 75.20,486.68 75.20,485.40 76.09,485.40 76.09,483.92 77.49,483.92 77.49,481.61 78.70,481.61 78.70,479.60 79.90,479.60 79.90,477.88 81.39,477.88 81.39,475.72 82.80,475.72 82.80,473.70 83.40,473.70 83.40,471.40 84.79,471.40 84.79,469.28 85.70,469.28 85.70,467.90 87.26,467.90 87.26,466.74 89.05,466.74 89.05,465.41 90.40,465.41 90.40,464.40 90.88,464.40 90.88,462.34 91.50,462.34 91.50,459.70 92.63,459.70 92.63,457.44 93.49,457.44 93.49,455.72 94.19,455.72 94.19,454.32 95.00,454.32 95.00,452.70 96.58,452.70 96.58,451.66 98.50,451.66 98.50,450.40 100.10,450.40 100.10,448.57 101.53,448.57 101.53,446.92 102.60,446.92 102.60,445.70 105.00,445.70 105.00,445.35 106.70,445.35 106.70,445.10 108.65,445.10 108.65,444.15 110.20,444.15 110.20,443.40 111.27,443.40 111.27,441.96 112.68,441.96 112.68,440.07 113.70,440.07 113.70,438.70 115.43,438.70 115.43,437.81 117.20,437.81 117.20,436.90 119.15,436.90 119.15,436.29 120.70,436.29 120.70,435.80 122.41,435.80 122.41,434.31 123.91,434.31 123.91,433.00 125.40,433.00 125.40,431.70 126.73,431.70 126.73,430.88 128.69,430.88 128.69,429.67 130.10,429.67 130.10,428.80 132.18,428.80 132.18,427.73 133.60,427.73 133.60,427.00 134.66,427.00 134.66,425.58 136.03,425.58 136.03,423.73 137.10,423.73 137.10,422.30 138.59,422.30 138.59,420.54 140.70,420.54 140.70,418.04 142.00,418.04 142.00,416.50 144.01,416.50 144.01,415.26 145.56,415.26 145.56,414.30 146.70,414.30 146.70,413.60 148.48,413.60 148.48,413.29 150.20,413.29 150.20,413.00 152.30,413.00 152.30,410.90 153.70,410.90 153.70,409.50 156.02,409.50 156.02,408.66 158.40,408.66 158.40,407.80 160.60,407.80 160.60,407.12 161.89,407.12 161.89,406.72 164.20,406.72 164.20,406.00 166.33,406.00 166.33,405.78 167.97,405.78 167.97,405.61 170.00,405.61 170.00,405.40 172.13,405.40 172.13,405.22 174.19,405.22 174.19,405.04 175.90,405.04 175.90,404.90 177.76,404.90 177.76,404.32 179.94,404.32 179.94,403.65 181.70,403.65 181.70,403.10 183.65,403.10 183.65,402.16 185.20,402.16 185.20,401.40 186.90,401.40 186.90,401.18 189.90,401.18 189.90,400.80 191.61,400.80 191.61,400.51 194.05,400.51 194.05,400.09 196.90,400.09 196.90,399.60 198.38,399.60 198.38,399.38 200.96,399.38 200.96,399.01 202.90,399.01 202.90,398.72 205.10,398.72 205.10,398.40 210.00,398.10 211.47,398.10 211.47,397.86 214.08,397.86 214.08,397.44 216.02,397.44 216.02,397.13 218.29,397.13 218.29,396.76 220.50,396.76 220.50,396.40 222.82,396.40 222.82,396.22 224.80,396.22 224.80,396.07 227.38,396.07 227.38,395.88 230.15,395.88 230.15,395.67 232.22,395.67 232.22,395.51 233.93,395.51 233.93,395.38 236.30,395.38 236.30,395.20 237.84,395.20 237.84,395.14 240.17,395.14 240.17,395.04 242.96,395.04 242.96,394.92 245.22,394.92 245.22,394.83 246.79,394.83 246.79,394.76 249.62,394.76 249.62,394.64 252.16,394.64 252.16,394.54 253.67,394.54 253.67,394.47 255.94,394.47 255.94,394.38 257.86,394.38 257.86,394.30 260.13,394.30 260.13,394.20 262.60,394.20 262.60,394.10 264.77,394.10 264.77,394.06 266.84,394.06 266.84,394.03 268.89,394.03 268.89,393.99 271.93,393.99 271.93,393.94 273.46,393.94 273.46,393.91 275.37,393.91 275.37,393.88 277.79,393.88 277.79,393.84 280.00,393.84 280.00,393.80 329.70,393.80" fill="none" stroke="#ec1a2e" stroke-width="1.6" stroke-linejoin="miter" stroke-miterlimit="2"/>
<line x1="44.40" y1="663.30" x2="329.70" y2="394.30" stroke="#1a1a96" stroke-width="1.65" stroke-dasharray="5.2 2.25" stroke-dashoffset="-0.8"/>
<rect x="129.4" y="586.9" width="195.0" height="73.4" rx="2" fill="#fff" fill-opacity="0.85" stroke="#dcdcdc" stroke-width="1"/>
<line x1="132.8" y1="594.80" x2="154.1" y2="594.80" stroke="#a3ab41" stroke-width="1.8"/>
<text transform="translate(161.30,598.40) scale(1,1.06)" font-size="11.08">NeuralNetFastAI_L1(AUC=0.808)</text>
<line x1="132.8" y1="609.30" x2="154.1" y2="609.30" stroke="#c17bbd" stroke-width="1.8"/>
<text transform="translate(161.30,612.90) scale(1,1.06)" font-size="11.08">NeuralNetTorch_L1(AUC=0.859)</text>
<line x1="132.8" y1="623.80" x2="154.1" y2="623.80" stroke="#4fb472" stroke-width="1.8"/>
<text transform="translate(161.30,627.40) scale(1,1.06)" font-size="11.08">NeuralNetFastAI_L2(AUC=0.854)</text>
<line x1="132.8" y1="638.30" x2="154.1" y2="638.30" stroke="#52b1e8" stroke-width="1.8"/>
<text transform="translate(161.30,641.90) scale(1,1.06)" font-size="11.08">NeuralNetTorch_L2(AUC=0.882)</text>
<line x1="132.8" y1="652.80" x2="154.1" y2="652.80" stroke="#ec1a2e" stroke-width="1.8"/>
<text transform="translate(161.30,656.40) scale(1,1.06)" font-size="11.08">PBertKla(AUC = 0.884)</text>
<rect x="44.4" y="380.84999999999997" width="285.30" height="282.45" fill="none" stroke="#333" stroke-width="1.2"/>
<line x1="44.40" y1="663.3" x2="44.40" y2="666.9" stroke="#333" stroke-width="1.1"/>
<text transform="translate(44.40,680.20) scale(1,1.06)" font-size="15.5" text-anchor="middle">0.0</text>
<line x1="101.46" y1="663.3" x2="101.46" y2="666.9" stroke="#333" stroke-width="1.1"/>
<text transform="translate(101.46,680.20) scale(1,1.06)" font-size="15.5" text-anchor="middle">0.2</text>
<line x1="158.52" y1="663.3" x2="158.52" y2="666.9" stroke="#333" stroke-width="1.1"/>
<text transform="translate(158.52,680.20) scale(1,1.06)" font-size="15.5" text-anchor="middle">0.4</text>
<line x1="215.58" y1="663.3" x2="215.58" y2="666.9" stroke="#333" stroke-width="1.1"/>
<text transform="translate(215.58,680.20) scale(1,1.06)" font-size="15.5" text-anchor="middle">0.6</text>
<line x1="272.64" y1="663.3" x2="272.64" y2="666.9" stroke="#333" stroke-width="1.1"/>
<text transform="translate(272.64,680.20) scale(1,1.06)" font-size="15.5" text-anchor="middle">0.8</text>
<line x1="329.70" y1="663.3" x2="329.70" y2="666.9" stroke="#333" stroke-width="1.1"/>
<text transform="translate(329.70,680.20) scale(1,1.06)" font-size="15.5" text-anchor="middle">1.0</text>
<line x1="40.8" y1="663.30" x2="44.4" y2="663.30" stroke="#333" stroke-width="1.1"/>
<text transform="translate(37.80,667.80) scale(1,1.06)" font-size="15.5" text-anchor="end">0.0</text>
<line x1="40.8" y1="609.50" x2="44.4" y2="609.50" stroke="#333" stroke-width="1.1"/>
<text transform="translate(37.80,614.00) scale(1,1.06)" font-size="15.5" text-anchor="end">0.2</text>
<line x1="40.8" y1="555.70" x2="44.4" y2="555.70" stroke="#333" stroke-width="1.1"/>
<text transform="translate(37.80,560.20) scale(1,1.06)" font-size="15.5" text-anchor="end">0.4</text>
<line x1="40.8" y1="501.90" x2="44.4" y2="501.90" stroke="#333" stroke-width="1.1"/>
<text transform="translate(37.80,506.40) scale(1,1.06)" font-size="15.5" text-anchor="end">0.6</text>
<line x1="40.8" y1="448.10" x2="44.4" y2="448.10" stroke="#333" stroke-width="1.1"/>
<text transform="translate(37.80,452.60) scale(1,1.06)" font-size="15.5" text-anchor="end">0.8</text>
<line x1="40.8" y1="394.30" x2="44.4" y2="394.30" stroke="#333" stroke-width="1.1"/>
<text transform="translate(37.80,398.80) scale(1,1.06)" font-size="15.5" text-anchor="end">1.0</text>
<text transform="translate(179.20,376.30) scale(1,0.95)" font-size="17.3" text-anchor="middle">ROC Curve</text>
<text transform="translate(179.60,695.90) scale(1,0.95)" font-size="17.2" text-anchor="middle">False Positive Rate</text>
<text transform="translate(12.8,524.6) rotate(-90) scale(1,1.0)" font-size="17.2" text-anchor="middle">True Positive Rate</text>
<text transform="translate(1.10,371.40) scale(1,1.0)" font-size="19.6" style='font-family:"Liberation Sans", sans-serif'>B</text>
<line x1="391.70" y1="380.9" x2="391.70" y2="663.3" stroke="#8c8c8c" stroke-opacity="0.21" stroke-width="1"/>
<line x1="448.70" y1="380.9" x2="448.70" y2="663.3" stroke="#8c8c8c" stroke-opacity="0.21" stroke-width="1"/>
<line x1="505.70" y1="380.9" x2="505.70" y2="663.3" stroke="#8c8c8c" stroke-opacity="0.21" stroke-width="1"/>
<line x1="562.70" y1="380.9" x2="562.70" y2="663.3" stroke="#8c8c8c" stroke-opacity="0.21" stroke-width="1"/>
<line x1="619.70" y1="380.9" x2="619.70" y2="663.3" stroke="#8c8c8c" stroke-opacity="0.21" stroke-width="1"/>
<line x1="676.70" y1="380.9" x2="676.70" y2="663.3" stroke="#8c8c8c" stroke-opacity="0.21" stroke-width="1"/>
<line x1="391.7" y1="663.30" x2="676.7" y2="663.30" stroke="#8c8c8c" stroke-opacity="0.21" stroke-width="1"/>
<line x1="391.7" y1="608.92" x2="676.7" y2="608.92" stroke="#8c8c8c" stroke-opacity="0.21" stroke-width="1"/>
<line x1="391.7" y1="554.54" x2="676.7" y2="554.54" stroke="#8c8c8c" stroke-opacity="0.21" stroke-width="1"/>
<line x1="391.7" y1="500.16" x2="676.7" y2="500.16" stroke="#8c8c8c" stroke-opacity="0.21" stroke-width="1"/>
<line x1="391.7" y1="445.78" x2="676.7" y2="445.78" stroke="#8c8c8c" stroke-opacity="0.21" stroke-width="1"/>
<line x1="391.7" y1="391.40" x2="676.7" y2="391.40" stroke="#8c8c8c" stroke-opacity="0.21" stroke-width="1"/>
<path d="M391.70,391.40L396.30,449.00C396.50,445.75 396.95,440.47 397.50,436.80C398.05,433.13 398.92,429.22 399.60,427.00C400.28,424.78 400.58,424.70 401.60,423.50C402.62,422.30 404.33,421.10 405.70,419.80C407.07,418.50 408.71,416.38 409.80,415.70L410.50,420.50L411.90,425.90L413.20,430.00C413.43,429.28 413.68,428.20 414.60,427.30C415.52,426.40 417.61,425.05 418.70,424.60L420.10,427.30L421.40,434.10L422.80,438.20L424.80,439.60L426.20,437.69L426.20,438.20L427.60,436.22L427.60,436.80L429.10,433.91L429.10,434.70L429.53,434.18L429.53,436.75L429.95,436.21L429.95,438.80L430.38,438.21L430.38,440.85L430.80,440.50L430.80,442.90L431.55,442.35L431.55,445.07L432.30,444.46L432.30,447.25L433.05,446.53L433.05,449.43L433.80,449.13L433.80,451.60L435.40,449.88L435.40,450.30L437.00,448.71L437.00,449.00L438.60,446.97L438.60,447.70L440.20,445.74L440.20,446.40L441.95,446.13L441.95,447.85L443.70,447.02L443.70,449.30L445.63,446.91L445.63,447.73L447.57,445.53L447.57,446.17L449.50,443.99L449.50,444.60L452.40,443.77L452.40,444.10L453.00,443.85L453.00,446.43L453.60,445.88L453.60,448.77L454.20,448.49L454.20,451.10L455.37,450.75L455.37,452.63L456.53,452.25L456.53,454.17L457.70,453.91L457.70,455.70L458.47,455.18L458.47,458.03L459.23,457.53L459.23,460.37L460.00,459.62L460.00,462.70L461.75,462.15L461.75,462.70L463.50,462.08L463.50,462.70L465.85,461.01L465.85,461.55L468.20,459.76L468.20,460.40L469.68,459.89L469.68,461.85L471.15,461.44L471.15,463.30L472.62,462.46L472.62,464.75L474.10,463.91L474.10,466.20L476.12,464.58L476.12,465.32L478.15,463.79L478.15,464.45L480.18,463.15L480.18,463.57L482.20,462.32L482.20,462.70L484.55,462.29L484.55,463.90L486.90,463.62L486.90,465.10L488.45,464.40L488.45,467.30L490.00,466.82L490.00,469.50L490.97,468.75L490.97,471.20L491.93,470.73L491.93,472.90L492.90,472.09L492.90,474.60L495.80,473.85L495.80,476.10L497.30,475.86L497.30,478.25L498.80,477.88L498.80,480.40L500.95,479.61L500.95,481.90L503.10,481.38L503.10,483.40L506.10,482.57L506.10,484.10L507.55,483.62L507.55,485.20L509.00,484.92L509.00,486.30L510.80,485.28L510.80,485.90L512.60,484.79L512.60,485.50L514.05,485.10L514.05,487.35L515.50,487.06L515.50,489.20L516.25,488.76L516.25,491.75L517.00,490.93L517.00,494.30L518.85,493.61L518.85,494.65L520.70,494.34L520.70,495.00L522.85,494.61L522.85,495.00L525.00,494.70L525.00,495.00L528.00,494.72L528.00,496.50L530.90,495.08L530.90,495.80L533.10,495.45L533.10,496.90L535.30,496.32L535.30,498.00L536.75,497.49L536.75,499.05L538.20,498.70L538.20,500.10L541.10,498.72L541.10,499.40L543.30,499.08L543.30,500.15L545.50,499.52L545.50,500.90L547.43,500.59L547.43,501.13L549.37,500.64L549.37,501.37L551.30,501.00L551.30,501.60L552.75,501.20L552.75,502.70L554.20,501.88L554.20,503.80L554.93,503.08L554.93,505.73L555.67,505.31L555.67,507.67L556.40,506.90L556.40,509.60L557.50,509.23L557.50,511.45L558.60,510.97L558.60,513.30L560.80,512.55L560.80,515.10L563.00,514.47L563.00,516.90L565.20,516.60L565.20,518.40L567.40,517.57L567.40,519.90L568.87,519.53L568.87,521.33L570.33,520.94L570.33,522.77L571.80,522.06L571.80,524.20L573.73,523.53L573.73,523.97L575.67,523.32L575.67,523.73L577.60,523.22L577.60,523.50L579.05,523.21L579.05,524.60L580.50,524.01L580.50,525.70L582.70,525.31L582.70,526.75L584.90,526.15L584.90,527.80L587.45,527.34L587.45,528.65L590.00,528.14L590.00,529.50L593.30,528.68L593.30,529.70L594.23,529.17L594.23,531.57L595.17,530.98L595.17,533.43L596.10,532.67L596.10,535.30L596.80,534.95L596.80,538.05L597.50,537.72L597.50,540.80L599.55,540.01L599.55,542.20L601.60,541.47L601.60,543.60L603.70,543.21L603.70,544.30L605.80,543.95L605.80,545.00L607.90,544.32L607.90,546.35L610.00,545.55L610.00,547.70L612.05,547.34L612.05,548.40L614.10,547.59L614.10,549.10L616.20,547.98L616.20,548.75L618.30,547.80L618.30,548.40L620.40,547.91L620.40,549.10L621.40,548.80L621.40,551.20L622.40,550.94L622.40,553.30L624.50,552.48L624.50,554.70L626.60,554.32L626.60,556.10L628.00,555.44L628.00,557.47L629.40,557.07L629.40,558.83L630.80,558.10L630.80,560.20L632.17,559.60L632.17,561.60L633.53,561.18L633.53,563.00L634.90,562.65L634.90,564.40L636.30,563.73L636.30,565.77L637.70,565.49L637.70,567.13L639.10,566.76L639.10,568.50L641.20,567.92L641.20,569.90L643.30,569.15L643.30,571.30L644.65,570.69L644.65,573.40L646.00,572.99L646.00,575.50L646.93,574.71L646.93,577.33L647.87,576.97L647.87,579.17L648.80,578.92L648.80,581.00L649.53,580.60L649.53,583.00L650.27,582.49L650.27,585.00L651.00,584.72L651.00,587.00L651.90,586.65L651.90,588.73L652.80,588.27L652.80,590.47L653.70,589.88L653.70,592.20L654.75,591.88L654.75,593.80L655.80,593.34L655.80,595.40L656.90,594.63L656.90,597.55L658.00,596.72L658.00,599.70L659.05,599.07L659.05,601.30L660.10,600.65L660.10,602.90L660.90,602.31L660.90,605.60L661.70,605.28L661.70,608.30L662.50,608.04L662.50,611.00L663.30,610.75L663.30,613.70L664.95,612.91L664.95,615.30L666.60,614.64L666.60,616.90L667.30,616.08L667.30,618.70L668.00,618.45L668.00,620.50L668.70,619.88L668.70,622.30L669.43,621.77L669.43,624.43L670.17,623.76L670.17,626.57L670.90,626.14L670.90,628.70L671.60,627.86L671.60,630.87L672.30,630.58L672.30,633.03L673.00,632.47L673.00,635.20L673.53,634.52L673.53,637.33L674.07,636.55L674.07,639.47L674.60,638.78L674.60,641.60L675.15,640.94L675.15,644.30L675.70,643.58L675.70,647.00L676.20,652.40L676.70,663.30" fill="none" stroke="#a3ab41" stroke-width="1.6" stroke-linejoin="miter" stroke-miterlimit="2"/>
<path d="M391.70,391.40L398.50,391.40L398.50,409.50C398.80,408.78 399.55,407.82 400.30,406.80C401.05,405.78 402.10,404.35 403.00,403.40C403.90,402.45 404.78,401.67 405.70,401.10C406.62,400.53 407.75,400.18 408.50,400.00L408.90,407.50C409.28,406.97 410.13,406.12 411.20,405.50C412.27,404.88 414.17,404.15 415.30,403.80L418.00,403.40L418.70,406.80L420.70,407.50L421.40,410.20L423.50,411.60L424.20,414.30L426.00,413.13L426.00,413.65L427.80,412.37L427.80,413.00L429.10,411.26L429.10,411.90L430.55,411.57L430.55,413.95L432.00,413.70L432.00,416.00L433.18,415.54L433.18,417.90L434.35,417.50L434.35,419.80L435.52,419.07L435.52,421.70L436.70,421.05L436.70,423.60L438.45,423.00L438.45,424.20L440.20,423.63L440.20,424.80L442.13,423.20L442.13,423.83L444.07,422.54L444.07,422.87L446.00,421.40L446.00,421.90L448.40,421.56L448.40,423.00L450.33,421.25L450.33,422.03L452.27,420.79L452.27,421.07L454.20,419.37L454.20,420.10L456.13,419.42L456.13,419.70L458.07,418.65L458.07,419.30L460.00,418.46L460.00,418.90L462.35,418.42L462.35,420.40L464.70,419.65L464.70,421.90L467.05,421.65L467.05,422.45L469.40,422.17L469.40,423.00L470.97,422.21L470.97,424.37L472.53,423.82L472.53,425.73L474.10,425.44L474.10,427.10L476.03,426.07L476.03,426.90L477.97,425.89L477.97,426.70L479.90,426.19L479.90,426.50L481.65,425.71L481.65,426.20L483.40,425.58L483.40,425.90L484.17,425.47L484.17,427.67L484.93,427.05L484.93,429.43L485.70,429.10L485.70,431.20L488.05,430.54L488.05,431.80L490.40,431.53L490.40,432.40L492.75,432.06L492.75,432.40L495.10,431.67L495.10,432.40L497.40,431.92L497.40,432.40L499.70,431.91L499.70,432.40L502.30,431.80L502.30,432.50L503.50,431.97L503.50,435.10L504.70,434.63L504.70,437.70L505.80,437.44L505.80,440.00L507.77,439.32L507.77,441.57L509.73,440.75L509.73,443.13L511.70,442.31L511.70,444.70L513.63,444.06L513.63,445.87L515.57,445.41L515.57,447.03L517.50,446.58L517.50,448.20L519.47,447.55L519.47,449.37L521.43,448.72L521.43,450.53L523.40,450.23L523.40,451.70L525.73,451.32L525.73,452.47L528.07,452.01L528.07,453.23L530.40,452.69L530.40,454.00L532.70,452.72L532.70,453.45L535.00,452.36L535.00,452.90L536.97,452.64L536.97,454.07L538.93,453.33L538.93,455.23L540.90,454.74L540.90,456.40L542.83,455.85L542.83,457.57L544.77,457.19L544.77,458.73L546.70,458.24L546.70,459.90L548.67,459.43L548.67,460.67L550.63,459.96L550.63,461.43L552.60,461.13L552.60,462.20L554.53,461.63L554.53,463.00L556.47,462.65L556.47,463.80L558.40,463.14L558.40,464.60L560.33,464.34L560.33,465.17L562.27,464.76L562.27,465.73L564.20,465.29L564.20,466.30L566.17,465.68L566.17,468.07L568.13,467.80L568.13,469.83L570.10,469.32L570.10,471.60L571.63,471.23L571.63,472.77L573.17,472.36L573.17,473.93L574.70,473.41L574.70,475.10L575.97,474.28L575.97,476.97L577.23,476.44L577.23,478.83L578.50,478.02L578.50,480.70L580.25,480.36L580.25,481.85L582.00,481.06L582.00,483.00L582.58,482.54L582.58,485.35L583.15,485.00L583.15,487.70L583.72,487.01L583.72,490.05L584.30,489.26L584.30,492.40L585.47,492.16L585.47,494.73L586.63,494.33L586.63,497.07L587.80,496.36L587.80,499.40L589.00,498.95L589.00,500.97L590.20,500.58L590.20,502.53L591.40,502.29L591.40,504.10L592.93,503.84L592.93,505.27L594.47,504.66L594.47,506.43L596.00,505.60L596.00,507.60L598.35,506.76L598.35,508.75L600.70,508.21L600.70,509.90L602.27,509.65L602.27,511.07L603.83,510.63L603.83,512.23L605.40,511.52L605.40,513.40L607.70,512.66L607.70,514.55L610.00,513.93L610.00,515.70L612.35,515.32L612.35,516.60L614.70,516.04L614.70,517.50L616.35,516.97L616.35,519.50L618.00,518.88L618.00,521.50L619.55,521.10L619.55,523.50L621.10,522.69L621.10,525.50L622.93,524.72L622.93,526.90L624.77,526.56L624.77,528.30L626.60,527.89L626.60,529.70L628.47,528.94L628.47,531.57L630.33,531.16L630.33,533.43L632.20,532.63L632.20,535.30L634.03,534.75L634.03,537.13L635.87,536.48L635.87,538.97L637.70,538.30L637.70,540.80L638.75,540.43L638.75,542.52L639.80,542.11L639.80,544.25L640.85,543.86L640.85,545.98L641.90,545.33L641.90,547.70L642.92,547.04L642.92,549.45L643.95,549.13L643.95,551.20L644.98,550.43L644.98,552.95L646.00,552.46L646.00,554.70L647.40,554.32L647.40,556.53L648.80,556.03L648.80,558.37L650.20,557.54L650.20,560.20L651.23,559.62L651.23,561.95L652.25,561.34L652.25,563.70L653.27,562.91L653.27,565.45L654.30,564.63L654.30,567.20L655.23,566.50L655.23,569.50L656.17,569.01L656.17,571.80L657.10,571.21L657.10,574.10L658.03,573.32L658.03,576.40L658.97,575.69L658.97,578.70L659.90,578.11L659.90,581.00L661.30,580.55L661.30,583.10L662.70,582.64L662.70,585.20L663.60,584.52L663.60,587.03L664.50,586.46L664.50,588.87L665.40,588.62L665.40,590.70L666.10,590.03L666.10,592.80L666.80,592.02L666.80,594.90L667.60,604.00L668.00,603.28L668.00,606.15L668.40,605.37L668.40,608.30L668.80,607.51L668.80,610.45L669.20,609.89L669.20,612.60L670.55,611.89L670.55,614.20L671.90,613.73L671.90,615.80L672.70,615.50L672.70,618.50L673.50,618.05L673.50,621.20L673.87,620.77L673.87,623.33L674.23,622.53L674.23,625.47L674.60,624.81L674.60,627.60L674.97,627.04L674.97,630.13L675.33,629.52L675.33,632.67L675.70,632.35L675.70,635.20L676.20,640.50L676.70,663.30" fill="none" stroke="#c17bbd" stroke-width="1.6" stroke-linejoin="miter" stroke-miterlimit="2"/>
<path d="M392.50,391.40L392.50,500.20C392.62,493.48 392.87,483.03 393.20,475.00C393.53,466.97 393.95,458.50 394.50,452.00C395.05,445.50 395.83,439.83 396.50,436.00C397.17,432.17 397.87,430.90 398.50,429.00C399.13,427.10 399.78,426.70 400.30,424.60C400.82,422.50 400.92,418.45 401.60,416.40C402.28,414.35 403.25,413.55 404.40,412.30C405.55,411.05 407.25,409.82 408.50,408.90C409.75,407.98 410.99,407.15 411.90,406.80L412.60,413.60L413.90,423.20C414.13,422.83 414.27,422.72 415.30,421.80C416.33,420.88 418.82,418.38 420.10,417.70L420.70,424.60L423.50,427.30C423.75,427.09 424.60,426.63 425.00,426.50L426.17,426.10L426.17,428.47L427.33,427.82L427.33,430.43L428.50,429.78L428.50,432.40L430.85,431.05L430.85,431.80L433.20,430.85L433.20,431.20L434.95,430.82L434.95,432.95L436.70,432.62L436.70,434.70L439.05,434.32L439.05,435.30L441.40,434.62L441.40,435.90L442.93,435.58L442.93,437.07L444.47,436.51L444.47,438.23L446.00,437.86L446.00,439.40L447.75,437.81L447.75,438.22L449.50,436.55L449.50,437.05L451.25,435.13L451.25,435.88L453.00,434.09L453.00,434.70L454.20,434.45L454.20,436.15L455.40,435.74L455.40,437.60L457.70,435.82L457.70,436.15L460.00,433.94L460.00,434.70L461.18,433.97L461.18,436.75L462.35,436.03L462.35,438.80L463.52,438.06L463.52,440.85L464.70,440.16L464.70,442.90L467.05,442.09L467.05,444.35L469.40,443.63L469.40,445.80L471.75,444.56L471.75,444.95L474.10,443.35L474.10,444.10L476.40,443.57L476.40,445.25L478.70,444.56L478.70,446.40L481.05,445.82L481.05,446.40L483.40,445.90L483.40,446.40L485.75,445.94L485.75,446.40L488.10,445.90L488.10,446.40L489.63,445.97L489.63,447.97L491.17,447.66L491.17,449.53L492.70,448.80L492.70,451.10L495.05,450.38L495.05,452.25L497.40,451.42L497.40,453.40L499.75,452.75L499.75,453.40L502.10,452.83L502.10,453.40L503.33,452.71L503.33,455.17L504.57,454.85L504.57,456.93L505.80,456.29L505.80,458.70L507.77,457.43L507.77,457.93L509.73,456.82L509.73,457.17L511.70,456.04L511.70,456.40L513.45,455.85L513.45,456.40L515.20,456.01L515.20,456.40L516.95,455.88L516.95,457.55L518.70,456.95L518.70,458.70L520.70,458.22L520.70,460.00L522.85,459.68L522.85,461.10L525.00,460.57L525.00,462.20L527.20,461.82L527.20,463.65L529.40,463.27L529.40,465.10L531.25,464.74L531.25,466.55L533.10,466.09L533.10,468.00L535.65,467.72L535.65,468.00L538.20,467.37L538.20,468.00L540.63,466.72L540.63,467.53L543.07,466.59L543.07,467.07L545.50,465.93L545.50,466.60L546.95,465.80L546.95,468.75L548.40,468.48L548.40,470.90L549.87,470.57L549.87,472.37L551.33,471.64L551.33,473.83L552.80,473.09L552.80,475.30L554.73,474.68L554.73,475.80L556.67,475.46L556.67,476.30L558.60,475.81L558.60,476.80L560.80,476.04L560.80,477.50L563.00,476.73L563.00,478.20L565.20,477.48L565.20,479.70L567.40,479.34L567.40,481.20L569.60,480.45L569.60,482.30L571.80,481.84L571.80,483.40L573.95,482.73L573.95,484.85L576.10,484.53L576.10,486.30L577.30,485.48L577.30,488.33L578.50,487.73L578.50,490.37L579.70,489.69L579.70,492.40L582.03,492.03L582.03,493.57L584.37,492.96L584.37,494.73L586.70,494.14L586.70,495.90L588.63,495.31L588.63,497.43L590.57,496.98L590.57,498.97L592.50,498.29L592.50,500.50L594.47,500.06L594.47,502.07L596.43,501.65L596.43,503.63L598.40,503.29L598.40,505.20L599.93,504.55L599.93,506.37L601.47,506.06L601.47,507.53L603.00,507.16L603.00,508.70L604.40,508.42L604.40,510.36L605.80,509.73L605.80,512.02L607.20,511.45L607.20,513.68L608.60,513.11L608.60,515.34L610.00,515.08L610.00,517.00L611.97,516.50L611.97,517.83L613.93,517.39L613.93,518.67L615.90,518.37L615.90,519.50L617.60,519.26L617.60,520.50L619.30,519.66L619.30,521.50L621.00,521.19L621.00,522.50L623.50,522.08L623.50,523.75L626.00,523.35L626.00,525.00L627.67,524.40L627.67,526.17L629.33,525.88L629.33,527.33L631.00,526.81L631.00,528.50L632.33,528.04L632.33,530.33L633.67,529.59L633.67,532.17L635.00,531.92L635.00,534.00L636.37,533.56L636.37,536.27L637.73,535.73L637.73,538.53L639.10,537.71L639.10,540.80L640.03,540.25L640.03,542.67L640.97,542.14L640.97,544.53L641.90,543.89L641.90,546.40L643.25,545.98L643.25,548.45L644.60,548.19L644.60,550.50L646.00,549.96L646.00,552.37L647.40,551.58L647.40,554.23L648.80,553.55L648.80,556.10L650.20,555.71L650.20,558.15L651.60,557.50L651.60,560.20L652.95,559.45L652.95,562.30L654.30,561.90L654.30,564.40L655.00,563.81L655.00,566.45L655.70,566.00L655.70,568.50L656.40,568.11L656.40,570.60L657.10,570.19L657.10,572.70L657.57,572.34L657.57,574.57L658.03,574.12L658.03,576.43L658.50,576.17L658.50,578.30L659.20,577.82L659.20,580.35L659.90,580.06L659.90,582.40L660.83,581.71L660.83,584.27L661.77,583.67L661.77,586.13L662.70,585.89L662.70,588.00L664.05,587.30L664.05,590.05L665.40,589.70L665.40,592.10L666.50,591.57L666.50,593.75L667.60,593.18L667.60,595.40L668.15,594.96L668.15,598.10L668.70,597.69L668.70,600.80L669.25,600.30L669.25,602.95L669.80,602.63L669.80,605.10L670.35,604.34L670.35,607.25L670.90,606.94L670.90,609.40L671.95,608.67L671.95,612.05L673.00,611.68L673.00,614.70L673.53,614.28L673.53,617.23L674.07,616.76L674.07,619.77L674.60,619.51L674.60,622.30L674.88,621.98L674.88,624.45L675.15,623.99L675.15,626.60L675.43,626.09L675.43,628.75L675.70,627.98L675.70,630.90L676.20,637.30L676.70,663.30" fill="none" stroke="#4fb472" stroke-width="1.6" stroke-linejoin="miter" stroke-miterlimit="2"/>
<path d="M391.70,391.40L416.00,391.40L416.00,397.30L417.30,397.30L417.30,398.50L419.40,400.00L420.00,402.00L422.10,402.00L422.80,404.80L424.80,405.50L425.50,406.80L427.80,405.20L427.80,405.50L429.10,403.14L429.10,403.80L429.70,403.17L429.70,405.55L430.30,404.75L430.30,407.30L432.30,406.90L432.30,408.45L434.30,408.06L434.30,409.60L435.50,408.92L435.50,411.05L436.70,410.41L436.70,412.50L438.63,412.08L438.63,413.30L440.57,412.65L440.57,414.10L442.50,413.62L442.50,414.90L444.47,413.79L444.47,414.50L446.43,413.79L446.43,414.10L448.40,413.33L448.40,413.70L449.55,412.92L449.55,415.45L450.70,415.00L450.70,417.20L453.05,416.80L453.05,417.50L455.40,416.78L455.40,417.80L457.70,417.18L457.70,418.65L460.00,418.32L460.00,419.50L461.97,418.56L461.97,419.13L463.93,418.13L463.93,418.77L465.90,418.06L465.90,418.40L468.20,417.17L468.20,417.80L469.95,417.49L469.95,418.95L471.70,418.51L471.70,420.10L474.05,419.21L474.05,419.50L476.40,418.54L476.40,418.90L478.73,417.71L478.73,418.53L481.07,417.68L481.07,418.17L483.40,416.97L483.40,417.80L485.15,417.30L485.15,418.10L486.90,417.50L486.90,418.40L489.25,417.64L489.25,419.25L491.60,418.60L491.60,420.10L493.93,419.79L493.93,420.10L496.27,419.51L496.27,420.10L498.60,419.48L498.60,420.10L499.80,419.75L499.80,421.55L501.00,421.25L501.00,423.00L501.83,422.24L501.83,424.80L502.67,424.25L502.67,426.60L503.50,426.24L503.50,428.40L505.85,427.59L505.85,428.10L508.20,427.43L508.20,427.80L509.95,427.08L509.95,428.95L511.70,428.41L511.70,430.10L513.45,429.80L513.45,430.70L515.20,429.97L515.20,431.30L516.95,431.01L516.95,432.75L518.70,432.34L518.70,434.20L521.05,433.94L521.05,434.20L523.40,433.52L523.40,434.20L524.93,433.89L524.93,435.77L526.47,435.21L526.47,437.33L528.00,437.04L528.00,438.90L529.97,438.37L529.97,440.43L531.93,439.78L531.93,441.97L533.90,441.41L533.90,443.50L535.65,442.99L535.65,444.70L537.40,444.17L537.40,445.90L539.33,444.80L539.33,445.30L541.27,444.10L541.27,444.70L543.20,443.80L543.20,444.10L544.95,443.58L544.95,445.55L546.70,445.17L546.70,447.00L549.05,446.24L549.05,447.90L551.40,447.10L551.40,448.80L553.73,448.52L553.73,449.77L556.07,449.44L556.07,450.73L558.40,450.07L558.40,451.70L560.75,451.12L560.75,452.90L563.10,452.65L563.10,454.10L565.40,453.44L565.40,455.25L567.70,454.44L567.70,456.40L570.05,455.91L570.05,457.55L572.40,457.10L572.40,458.70L573.97,458.12L573.97,460.27L575.53,459.46L575.53,461.83L577.10,461.44L577.10,463.40L577.97,462.98L577.97,465.27L578.83,464.91L578.83,467.13L579.70,466.52L579.70,469.00L581.63,468.48L581.63,470.17L583.57,469.77L583.57,471.33L585.50,470.86L585.50,472.50L587.07,472.24L587.07,474.47L588.63,474.04L588.63,476.43L590.20,475.60L590.20,478.40L591.95,477.81L591.95,478.95L593.70,478.54L593.70,479.50L594.87,478.70L594.87,481.47L596.03,481.01L596.03,483.43L597.20,483.04L597.20,485.40L598.37,485.14L598.37,486.93L599.53,486.61L599.53,488.47L600.70,488.11L600.70,490.00L602.63,489.62L602.63,491.17L604.57,490.40L604.57,492.33L606.50,491.93L606.50,493.50L608.25,493.11L608.25,495.25L610.00,494.65L610.00,497.00L611.17,496.21L611.17,498.57L612.33,498.15L612.33,500.13L613.50,499.44L613.50,501.70L615.47,501.24L615.47,503.27L617.43,502.69L617.43,504.83L619.40,504.24L619.40,506.40L620.97,505.59L620.97,507.97L622.53,507.27L622.53,509.53L624.10,508.99L624.10,511.10L626.40,510.36L626.40,512.25L628.70,511.79L628.70,513.40L630.27,512.93L630.27,514.97L631.83,514.15L631.83,516.53L633.40,515.97L633.40,518.10L635.20,517.40L635.20,519.80L637.00,519.37L637.00,521.50L638.17,520.71L638.17,523.30L639.33,522.69L639.33,525.10L640.50,524.71L640.50,526.90L641.43,526.10L641.43,528.77L642.37,528.25L642.37,530.63L643.30,530.19L643.30,532.50L644.67,532.10L644.67,533.87L646.03,533.56L646.03,535.23L647.40,534.87L647.40,536.60L648.33,535.94L648.33,538.47L649.27,538.14L649.27,540.33L650.20,539.94L650.20,542.20L651.13,541.69L651.13,544.03L652.07,543.47L652.07,545.87L653.00,545.40L653.00,547.70L653.33,546.99L653.33,549.80L653.65,549.41L653.65,551.90L653.97,551.44L653.97,554.00L654.30,553.50L654.30,556.10L655.70,555.78L655.70,557.47L657.10,557.09L657.10,558.83L658.50,558.51L658.50,560.20L659.55,559.52L659.55,561.95L660.60,561.62L660.60,563.70L661.65,563.06L661.65,565.45L662.70,565.08L662.70,567.20L663.60,566.57L663.60,569.03L664.50,568.40L664.50,570.87L665.40,570.41L665.40,572.70L665.87,571.90L665.87,574.57L666.33,573.93L666.33,576.43L666.80,575.86L666.80,578.30L667.73,578.03L667.73,580.60L668.67,580.12L668.67,582.90L669.60,582.50L669.60,585.20L670.30,590.00L670.85,589.48L670.85,592.15L671.40,591.35L671.40,594.30L673.00,606.10L673.37,605.34L673.37,608.63L673.73,608.36L673.73,611.17L674.10,610.52L674.10,613.70L674.38,612.90L674.38,615.85L674.65,615.28L674.65,618.00L674.93,617.70L674.93,620.15L675.20,619.39L675.20,622.30L676.00,630.90L676.50,638.40L676.70,663.30" fill="none" stroke="#52b1e8" stroke-width="1.6" stroke-linejoin="miter" stroke-miterlimit="2"/>
<path d="M391.70,391.40L393.50,391.40L393.50,452.00C393.60,448.69 393.77,443.95 394.10,439.60C394.43,435.25 394.93,430.00 395.50,425.90C396.07,421.80 396.88,417.57 397.50,415.00C398.12,412.43 398.75,411.25 399.20,410.50L400.00,419.10L400.60,439.60L401.00,460.00L401.40,473.50C401.55,470.27 401.80,465.68 402.30,461.40C402.80,457.12 403.60,451.90 404.40,447.80C405.20,443.70 405.97,439.98 407.10,436.80C408.23,433.62 409.83,430.73 411.20,428.70C412.57,426.67 413.72,425.85 415.30,424.60C416.88,423.35 419.22,422.00 420.70,421.20C422.18,420.40 423.27,420.03 424.20,419.80L425.50,421.80L427.60,419.68L427.60,420.50L429.70,419.25L429.70,419.50L431.43,417.65L431.43,418.33L433.17,416.83L433.17,417.17L434.90,415.17L434.90,416.00L435.50,415.75L435.50,417.97L436.10,417.20L436.10,419.93L436.70,419.28L436.70,421.90L438.27,419.98L438.27,420.73L439.83,418.73L439.83,419.57L441.40,418.02L441.40,418.40L442.37,417.96L442.37,420.73L443.33,420.07L443.33,423.07L444.30,422.66L444.30,425.40L446.20,423.98L446.20,424.38L448.10,422.97L448.10,423.35L450.00,421.57L450.00,422.32L451.90,420.54L451.90,421.30L452.75,420.58L452.75,423.60L453.60,423.23L453.60,425.90L455.73,425.11L455.73,426.70L457.87,426.15L457.87,427.50L460.00,427.12L460.00,428.30L461.75,427.79L461.75,429.32L463.50,428.83L463.50,430.35L465.25,430.06L465.25,431.38L467.00,430.80L467.00,432.40L469.37,430.98L469.37,431.43L471.73,429.88L471.73,430.47L474.10,428.70L474.10,429.50L475.63,428.87L475.63,430.67L477.17,430.18L477.17,431.83L478.70,431.08L478.70,433.00L481.05,431.56L481.05,432.40L483.40,431.27L483.40,431.80L485.75,430.39L485.75,431.20L488.10,430.35L488.10,430.60L490.43,430.28L490.43,431.57L492.77,431.22L492.77,432.53L495.10,431.73L495.10,433.50L497.55,432.05L497.55,432.70L500.00,431.23L500.00,431.90L502.30,431.49L502.30,434.20L504.05,433.66L504.05,436.25L505.80,435.48L505.80,438.30L507.77,437.40L507.77,437.70L509.73,436.79L509.73,437.10L511.70,436.23L511.70,436.50L513.63,435.61L513.63,436.13L515.57,435.02L515.57,435.77L517.50,434.83L517.50,435.40L518.67,434.92L518.67,436.93L519.83,436.39L519.83,438.47L521.00,438.12L521.00,440.00L523.40,439.19L523.40,442.40L525.70,441.35L525.70,441.80L528.00,440.82L528.00,441.20L530.40,440.77L530.40,443.00L532.70,442.27L532.70,443.00L535.00,442.57L535.00,443.00L536.97,442.22L536.97,443.57L538.93,443.12L538.93,444.13L540.90,443.63L540.90,444.70L542.65,444.42L542.65,446.45L544.40,445.67L544.40,448.20L546.70,447.48L546.70,449.40L549.05,448.88L549.05,450.25L551.40,449.94L551.40,451.10L553.73,450.56L553.73,452.27L556.07,451.80L556.07,453.43L558.40,452.69L558.40,454.60L560.75,453.80L560.75,455.50L563.10,454.82L563.10,456.40L564.63,455.99L564.63,457.57L566.17,457.30L566.17,458.73L567.70,457.96L567.70,459.90L570.05,459.09L570.05,461.35L572.40,461.01L572.40,462.80L573.70,462.26L573.70,464.15L575.00,463.62L575.00,465.50L577.35,464.67L577.35,466.65L579.70,466.38L579.70,467.80L581.63,467.52L581.63,469.00L583.57,468.25L583.57,470.20L585.50,469.62L585.50,471.40L587.07,470.88L587.07,473.33L588.63,472.63L588.63,475.27L590.20,474.67L590.20,477.20L591.95,476.54L591.95,477.20L593.70,476.81L593.70,477.20L595.27,476.91L595.27,478.37L596.83,478.12L596.83,479.53L598.40,479.09L598.40,480.70L599.55,480.07L599.55,482.75L600.70,482.28L600.70,484.80L601.85,484.35L601.85,486.85L603.00,486.24L603.00,488.90L605.35,487.64L605.35,488.30L607.70,487.10L607.70,487.70L610.03,487.27L610.03,488.87L612.37,488.13L612.37,490.03L614.70,489.31L614.70,491.20L615.87,490.42L615.87,493.13L617.03,492.36L617.03,495.07L618.20,494.82L618.20,497.00L619.95,496.36L619.95,498.50L621.70,498.05L621.70,500.00L622.00,499.53L622.00,502.18L622.30,501.62L622.30,504.35L622.60,504.02L622.60,506.52L622.90,506.14L622.90,508.70L624.47,507.87L624.47,509.87L626.03,509.43L626.03,511.03L627.60,510.25L627.60,512.20L629.35,511.55L629.35,513.95L631.10,513.52L631.10,515.70L631.47,515.27L631.47,517.87L631.83,517.26L631.83,520.03L632.20,519.37L632.20,522.20L634.03,521.76L634.03,523.30L635.87,523.02L635.87,524.40L637.70,524.06L637.70,525.50L638.63,524.74L638.63,527.37L639.57,526.69L639.57,529.23L640.50,528.93L640.50,531.10L642.55,530.36L642.55,532.50L644.60,531.91L644.60,533.90L646.00,533.46L646.00,535.27L647.40,534.49L647.40,536.63L648.80,536.32L648.80,538.00L650.90,537.70L650.90,538.35L653.00,537.90L653.00,538.70L654.02,538.02L654.02,540.45L655.05,539.88L655.05,542.20L656.08,541.67L656.08,543.95L657.10,543.17L657.10,545.70L659.20,545.22L659.20,546.70L661.30,545.99L661.30,547.70L662.00,547.46L662.00,550.03L662.70,549.32L662.70,552.37L663.40,552.03L663.40,554.70L663.73,554.07L663.73,556.78L664.05,556.03L664.05,558.85L664.38,558.22L664.38,560.92L664.70,560.34L664.70,563.00L665.23,562.43L665.23,565.08L665.75,564.38L665.75,567.15L666.27,566.69L666.27,569.22L666.80,568.84L666.80,571.30L668.90,570.73L668.90,572.70L669.25,572.15L669.25,574.78L669.60,574.47L669.60,576.85L669.95,576.29L669.95,578.92L670.30,578.40L670.30,581.00L670.77,580.67L670.77,583.33L671.23,582.67L671.23,585.67L671.70,584.96L671.70,588.00L672.17,587.56L672.17,590.30L672.63,589.54L672.63,592.60L673.10,591.77L673.10,594.90L674.10,605.10L674.63,604.46L674.63,607.23L675.17,606.75L675.17,609.37L675.70,608.96L675.70,611.50L676.20,622.30L676.50,633.00L676.70,663.30" fill="none" stroke="#ec1a2e" stroke-width="1.6" stroke-linejoin="miter" stroke-miterlimit="2"/>
<rect x="396.6" y="585.9" width="206.4" height="73.7" rx="2" fill="#fff" fill-opacity="0.85" stroke="#dcdcdc" stroke-width="1"/>
<line x1="399.3" y1="593.80" x2="420.4" y2="593.80" stroke="#a3ab41" stroke-width="1.8"/>
<text transform="translate(427.70,597.20) scale(1,1.06)" font-size="11.08">NeuralNetFastAI_L1(<tspan font-size="9.4">AUPRC</tspan>=0.793)</text>
<line x1="399.3" y1="608.25" x2="420.4" y2="608.25" stroke="#c17bbd" stroke-width="1.8"/>
<text transform="translate(427.70,611.65) scale(1,1.06)" font-size="11.08">NeuralNetTorch_L1(<tspan font-size="9.4">AUPRC</tspan>=0.855)</text>
<line x1="399.3" y1="622.70" x2="420.4" y2="622.70" stroke="#4fb472" stroke-width="1.8"/>
<text transform="translate(427.70,626.10) scale(1,1.06)" font-size="11.08">NeuralNetFastAI_L2(<tspan font-size="9.4">AUPRC</tspan>=0.837)</text>
<line x1="399.3" y1="637.15" x2="420.4" y2="637.15" stroke="#52b1e8" stroke-width="1.8"/>
<text transform="translate(427.70,640.55) scale(1,1.06)" font-size="11.08">NeuralNetTorch_L2(<tspan font-size="9.4">AUPRC</tspan>=0.878)</text>
<line x1="399.3" y1="651.60" x2="420.4" y2="651.60" stroke="#ec1a2e" stroke-width="1.8"/>
<text transform="translate(427.70,655.00) scale(1,1.06)" font-size="11.08">PBertKla(<tspan font-size="9.4">AUPRC</tspan> = 0.866)</text>
<rect x="391.7" y="380.9" width="285.00" height="282.40" fill="none" stroke="#333" stroke-width="1.2"/>
<line x1="391.70" y1="663.3" x2="391.70" y2="666.9" stroke="#333" stroke-width="1.1"/>
<text transform="translate(391.70,680.20) scale(1,1.06)" font-size="15.5" text-anchor="middle">0.0</text>
<line x1="448.70" y1="663.3" x2="448.70" y2="666.9" stroke="#333" stroke-width="1.1"/>
<text transform="translate(448.70,680.20) scale(1,1.06)" font-size="15.5" text-anchor="middle">0.2</text>
<line x1="505.70" y1="663.3" x2="505.70" y2="666.9" stroke="#333" stroke-width="1.1"/>
<text transform="translate(505.70,680.20) scale(1,1.06)" font-size="15.5" text-anchor="middle">0.4</text>
<line x1="562.70" y1="663.3" x2="562.70" y2="666.9" stroke="#333" stroke-width="1.1"/>
<text transform="translate(562.70,680.20) scale(1,1.06)" font-size="15.5" text-anchor="middle">0.6</text>
<line x1="619.70" y1="663.3" x2="619.70" y2="666.9" stroke="#333" stroke-width="1.1"/>
<text transform="translate(619.70,680.20) scale(1,1.06)" font-size="15.5" text-anchor="middle">0.8</text>
<line x1="676.70" y1="663.3" x2="676.70" y2="666.9" stroke="#333" stroke-width="1.1"/>
<text transform="translate(674.50,680.20) scale(1,1.06)" font-size="15.5" text-anchor="middle">1.0</text>
<line x1="388.09999999999997" y1="663.30" x2="391.7" y2="663.30" stroke="#333" stroke-width="1.1"/>
<text transform="translate(385.10,667.80) scale(1,1.06)" font-size="15.5" text-anchor="end">0.5</text>
<line x1="388.09999999999997" y1="608.92" x2="391.7" y2="608.92" stroke="#333" stroke-width="1.1"/>
<text transform="translate(385.10,613.42) scale(1,1.06)" font-size="15.5" text-anchor="end">0.6</text>
<line x1="388.09999999999997" y1="554.54" x2="391.7" y2="554.54" stroke="#333" stroke-width="1.1"/>
<text transform="translate(385.10,559.04) scale(1,1.06)" font-size="15.5" text-anchor="end">0.7</text>
<line x1="388.09999999999997" y1="500.16" x2="391.7" y2="500.16" stroke="#333" stroke-width="1.1"/>
<text transform="translate(385.10,504.66) scale(1,1.06)" font-size="15.5" text-anchor="end">0.8</text>
<line x1="388.09999999999997" y1="445.78" x2="391.7" y2="445.78" stroke="#333" stroke-width="1.1"/>
<text transform="translate(385.10,450.28) scale(1,1.06)" font-size="15.5" text-anchor="end">0.9</text>
<line x1="388.09999999999997" y1="391.40" x2="391.7" y2="391.40" stroke="#333" stroke-width="1.1"/>
<text transform="translate(385.10,395.90) scale(1,1.06)" font-size="15.5" text-anchor="end">1.0</text>
<text transform="translate(530.30,376.30) scale(1,0.95)" font-size="17.3" text-anchor="middle">PRC Curve</text>
<text transform="translate(530.00,695.60) scale(1,0.95)" font-size="17.2" text-anchor="middle">Recall</text>
<text transform="translate(360.1,525.0) rotate(-90) scale(1,0.95)" font-size="17.2" text-anchor="middle">Precision</text>
<text transform="translate(348.60,371.40) scale(1,1.0)" font-size="19.6" style='font-family:"Liberation Sans", sans-serif'>C</text>
</svg>
</body></html>
